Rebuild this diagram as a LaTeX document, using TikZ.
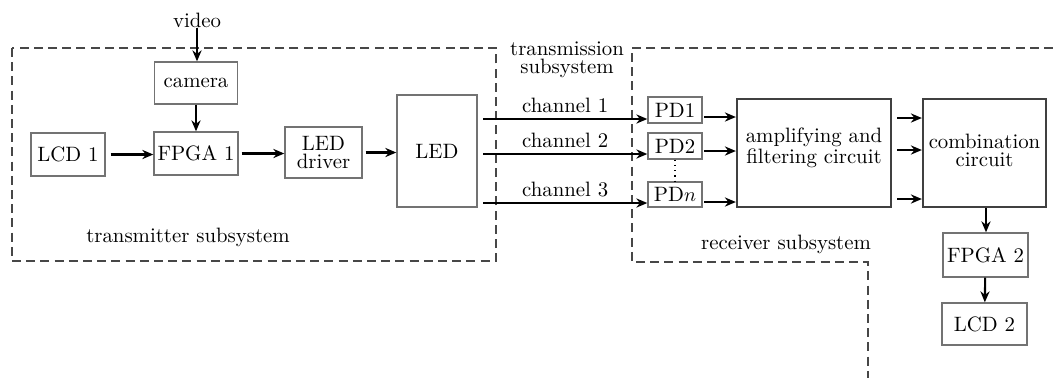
\documentclass[tikz,border=0pt]{standalone}
\usetikzlibrary{arrows.meta}
\begin{document}
\begin{tikzpicture}[x=0.5pt,y=-0.5pt,
  font=\fontsize{10.4}{12}\selectfont,
  box/.style={draw=black!55, line width=0.7pt, align=center, inner sep=0pt,
    font=\fontsize{10.4}{12}\linespread{0.79}\selectfont},
  bigbox/.style={box, draw=black!75, line width=1.15pt},
  arr/.style={-{Stealth[length=5.5pt,width=4.6pt,inset=1.8pt]}, line width=1.05pt},
  frame/.style={draw=black!72, line width=1.25pt, dash pattern=on 4.5pt off 2.6pt},
  lbl/.style={align=center, inner sep=0pt,
    font=\fontsize{10.4}{12}\linespread{0.77}\selectfont}]
\useasboundingbox (0,0) rectangle (1053,382);

% subsystem frames
\draw[frame] (12,48) rectangle (496,261);
\draw[frame] (1053,48) -- (632,48) -- (632,262) -- (868,262) -- (868,378);

% transmitter blocks
\node[lbl] (video) at (197,20) {video};
\node[box, minimum width=41.5pt, minimum height=21pt] (camera) at (196,83) {camera};
\node[box, minimum width=37pt, minimum height=21.5pt] (lcd1) at (68,154.5) {LCD 1};
\node[box, minimum width=42pt, minimum height=21.5pt] (fpga1) at (196,153.5) {FPGA 1};
\node[box, minimum width=38.5pt, minimum height=25.5pt] (drv) at (323.5,152.5) {LED\\driver};
\node[box, minimum width=40pt, minimum height=56pt] (led) at (437,151) {LED};
\node[lbl] at (188,237) {transmitter subsystem};

% photodetectors
\node[box, minimum width=27pt, minimum height=13pt] (pd1) at (675,110) {PD1};
\node[box, minimum width=27pt, minimum height=13pt] (pd2) at (675,146) {PD2};
\node[box, minimum width=27pt, minimum height=12.5pt] (pdn) at (675,194.5) {PD$n$};
\draw[dotted, line width=0.6pt] (pd2.south) -- (pdn.north);

% receiver blocks
\node[bigbox, minimum width=77pt, minimum height=54pt] (amp) at (814,153) {};
\node[lbl] at ([yshift=2.75pt]amp.center) {amplifying and\\filtering circuit};
\node[bigbox, minimum width=61.5pt, minimum height=54pt] (comb) at (984.5,153) {};
\node[lbl] at ([yshift=1.25pt]comb.center) {combination\\circuit};
\node[box, minimum width=42.5pt, minimum height=22pt] (fpga2) at (985.5,255) {FPGA 2};
\node[box, minimum width=42.5pt, minimum height=21pt] (lcd2) at (984.5,324) {LCD 2};
\node[lbl] at (786,244) {receiver subsystem};
\node[lbl] at (567,60) {transmission\\subsystem};

% connector end points
\coordinate (c1) at (483,119);
\coordinate (c2) at (483,154);
\coordinate (c3) at (483,203);
\coordinate (p1) at (704,117);
\coordinate (p2) at (704,151);
\coordinate (p3) at (704,202);
\coordinate (a1) at (897,118);
\coordinate (a2) at (897,150);
\coordinate (a3) at (897,199);

% transmitter connectors
\draw[arr] (video.south) -- (video.south |- camera.north);
\draw[arr] (camera) -- (fpga1);
\draw[arr] ([xshift=2.5pt]lcd1.east) -- (fpga1.west |- lcd1.east);
\draw[arr] ([xshift=1.5pt]fpga1.east) -- (drv.west |- fpga1.east);
\draw[arr] ([xshift=1.5pt]drv.east) -- (led.west |- drv.east);

% optical channels
\draw[arr] (c1) -- (pd1.west |- c1) node[midway, above=2.5pt, lbl] {channel 1};
\draw[arr] (c2) -- (pd2.west |- c2) node[midway, above=2.5pt, lbl] {channel 2};
\draw[arr] (c3) -- (pdn.west |- c3) node[midway, above=2.5pt, lbl] {channel 3};

% photodetectors to amplifier
\draw[arr] (p1) -- (amp.west |- p1);
\draw[arr] (p2) -- (amp.west |- p2);
\draw[arr] (p3) -- (amp.west |- p3);

% amplifier to combiner
\draw[arr] (a1) -- (comb.west |- a1);
\draw[arr] (a2) -- (comb.west |- a2);
\draw[arr] (a3) -- (comb.west |- a3);

% output chain
\draw[arr] ([xshift=0.75pt]comb.south) -- ([xshift=0.25pt]fpga2.north);
\draw[arr] (fpga2) -- (lcd2);
\end{tikzpicture}
\end{document}
